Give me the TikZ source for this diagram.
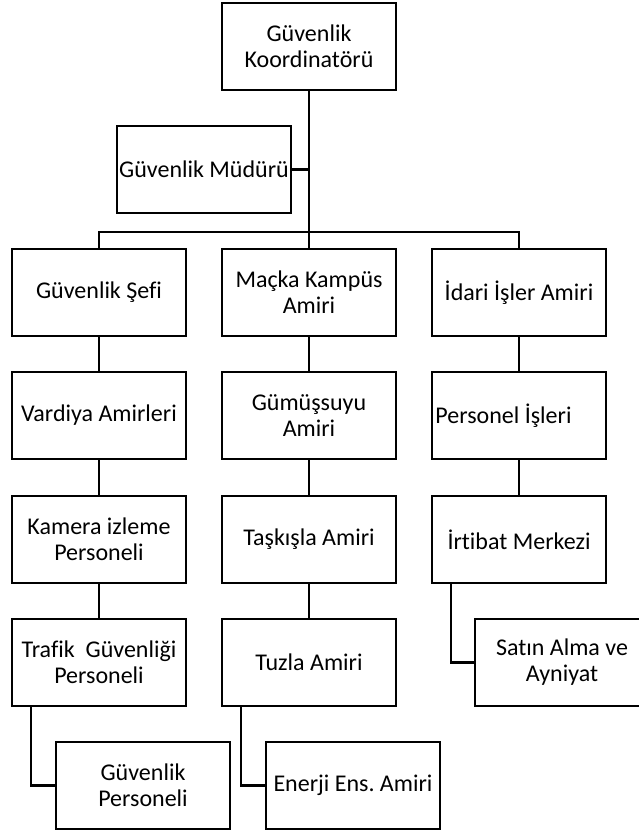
\documentclass[tikz,border=0pt]{standalone}
\usepackage{fontspec}
\setmainfont{Carlito}[Ligatures=NoCommon]
\usetikzlibrary{positioning}
\frenchspacing

\begin{document}
\begin{tikzpicture}[x=1pt, y=-1pt,
    orgbox/.style={draw=black, line width=2pt, fill=white, minimum width=174pt, minimum height=87pt,
        inner sep=0pt, align=center, font=\fontsize{24}{26}\selectfont},
    link/.style={line width=2.4pt}]

    % Define page size
    \useasboundingbox (0,0) rectangle (639,831);
    \clip (0,0) rectangle (639,831);

    % Define row heights
    \def\rowA{292.5}
    \def\rowB{415.5}
    \def\rowC{539.5}
    \def\rowD{662.5}
    \def\rowE{785.5}

    % Draw top of the chart
    \node[orgbox] (koord) at (309,46) {Güvenlik\\Koordinatörü};
    \node[orgbox] (mudur) at (204,169.5) {Güvenlik Müdürü};
    \coordinate (bus) at (309,232);

    % Draw left column
    \node[orgbox] (sef) at (99,\rowA) {Güvenlik Şefi};
    \node[orgbox] (vardiya) at (99,\rowB) {Vardiya Amirleri};
    \node[orgbox] (kamera) at (99,\rowC) {Kamera izleme\\Personeli};
    \node[orgbox] (trafik) at (99,\rowD) {Trafik\ \ Güvenliği\\Personeli};
    \node[orgbox] (guvper) at (143,\rowE) {Güvenlik\\Personeli};

    % Draw middle column
    \node[orgbox] (macka) at (309,\rowA) {Maçka Kampüs\\Amiri};
    \node[orgbox] (gumus) at (309,\rowB) {Gümüşsuyu\\Amiri};
    \node[orgbox] (taskisla) at (309,\rowC) {Taşkışla Amiri};
    \node[orgbox] (tuzla) at (309,\rowD) {Tuzla Amiri};
    \node[orgbox] (enerji) at (353,\rowE) {Enerji Ens. Amiri};

    % Draw right column
    \node[orgbox] (idari) at (519,\rowA) {İdari İşler Amiri};
    \node[orgbox] (personel) at (519,\rowB) {\hspace*{-31pt}Personel İşleri};
    \node[orgbox] (irtibat) at (519,\rowC) {İrtibat Merkezi};
    \node[orgbox] (satin) at (562,\rowD) {Satın Alma ve\\Ayniyat};

    % Draw connectors
    \draw[link] (koord.south) -- (macka.north);
    \draw[link] (mudur.east) -- (koord.south |- mudur.east);
    \draw[link] (sef.north) |- (bus) -| (idari.north);
    \foreach \a/\b in {sef/vardiya, vardiya/kamera, kamera/trafik,
                       macka/gumus, gumus/taskisla, taskisla/tuzla,
                       idari/personel, personel/irtibat}
        \draw[link] (\a.south) -- (\b.north);

    % Draw side branches
    \draw[link] ([xshift=-68pt]trafik.south) |- (guvper.west);
    \draw[link] ([xshift=-68pt]tuzla.south) |- (enerji.west);
    \draw[link] ([xshift=-68pt]irtibat.south) |- (satin.west);

\end{tikzpicture}
\end{document}
